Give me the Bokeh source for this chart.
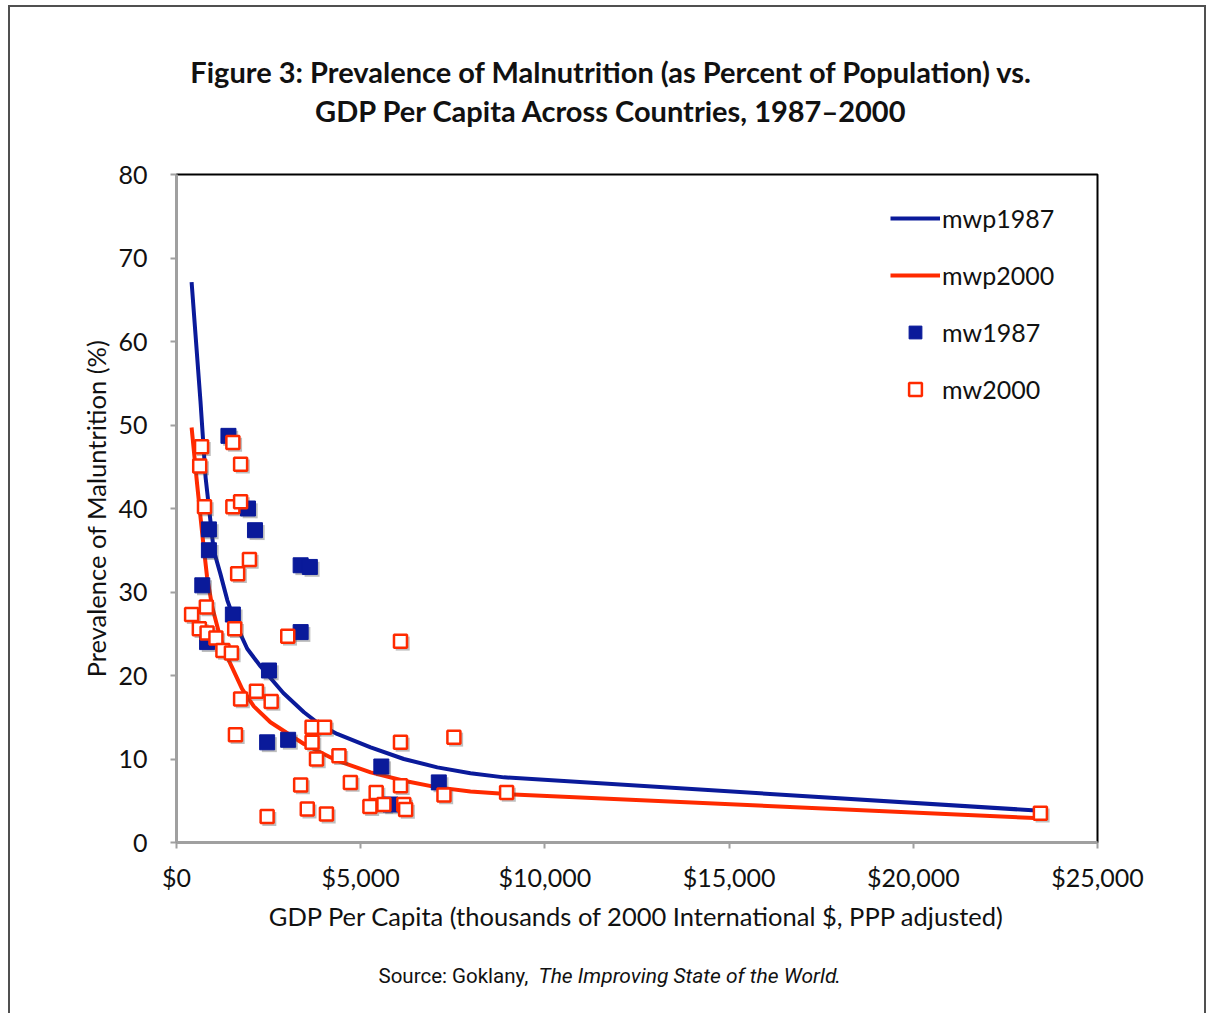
from bokeh.plotting import figure
from bokeh.layouts import column
from bokeh.models import (FixedTicker, NumeralTickFormatter, Legend, LegendItem,
                          Label)
from bokeh.transform import dodge
from bokeh.embed import file_html
from bokeh.resources import INLINE

# ---- data ----
x_mw1987 = [1410, 1940, 2130, 880, 880, 700, 3370, 3620, 1530, 3370, 830,
            2510, 2460, 3030, 5560, 7120, 5810]
y_mw1987 = [48.7, 40.0, 37.4, 37.5, 35.0, 30.8, 33.2, 33.0, 27.3, 25.2, 24.0,
            20.6, 12.0, 12.3, 9.1, 7.2, 4.55]

x_mw2000 = [680, 1530, 630, 1740, 760, 1530, 1740, 1980, 1660, 810, 410, 620,
            830, 1070, 1580, 3020, 1260, 1490, 6080, 1740, 2170, 2570, 1600,
            3680, 4020, 3680, 3800, 4410, 6080, 7530, 3370, 4720, 5420, 6080,
            7260, 5250, 5630, 6170, 6220, 3550, 4070, 2460, 23450, 8960]
y_mw2000 = [47.4, 47.9, 45.1, 45.3, 40.2, 40.2, 40.8, 33.9, 32.2, 28.2, 27.3,
            25.6, 25.1, 24.5, 25.6, 24.7, 23.0, 22.7, 24.1, 17.2, 18.1, 16.9,
            12.9, 13.8, 13.8, 12.0, 10.0, 10.4, 12.0, 12.6, 6.9, 7.2, 6.0, 6.8,
            5.7, 4.3, 4.55, 4.55, 3.95, 4.0, 3.4, 3.1, 3.5, 6.0]

x_mwp1987 = [410, 650, 790, 1010, 1190, 1380, 1510, 1650, 1920, 2280, 2550,
             2900, 3460, 3900, 4360, 5270, 6170, 7080, 7980, 8890, 23450]
y_mwp1987 = [67.1, 52.9, 43.7, 35.0, 32.2, 29.0, 27.4, 25.8, 23.2, 21.1, 19.7,
             17.9, 15.6, 14.1, 13.0, 11.4, 10.0, 9.0, 8.3, 7.8, 3.8]

x_mwp2000 = [410, 560, 700, 830, 970, 1190, 1420, 1780, 2100, 2550, 3460,
             4360, 5270, 6170, 7080, 7980, 8960, 23450]
y_mwp2000 = [49.7, 42.9, 36.9, 31.8, 28.2, 24.5, 21.8, 18.4, 16.3, 14.4, 11.8,
             9.8, 8.4, 7.4, 6.6, 6.1, 5.8, 2.9]

x_ticks = [0, 5000, 10000, 15000, 20000, 25000]
y_ticks = [0, 10, 20, 30, 40, 50, 60, 70, 80]

title_lines = ["Figure 3: Prevalence of Malnutrition (as Percent of Population) vs.",
               "GDP Per Capita Across Countries, 1987\u20132000"]
x_label = "GDP Per Capita (thousands of 2000 International $, PPP adjusted)"
y_label = "Prevalence of Maluntrition (%)"
source_parts = ["Source: Goklany, ", "The Improving State of the World", "."]

BLUE = "#0a1a9a"
RED = "#ff2a00"
FONT = "Lato"
BORDER = "2px solid #505050"

OX, OY = 10, 7              # page position of the content box
CW = 1194                   # content width
TH, MH, SH = 140, 810, 56   # heights of title / main / source panels
FW, FH = 921, 668
PL = 176                    # page x of the (column-aligned) frame left edge
FL = PL - OX
FT = 174 - (OY + TH)


def blank(h):
    f = figure(width=CW, height=h, output_backend="svg", toolbar_location=None,
               x_axis_type=None, y_axis_type=None, x_range=(0, 1), y_range=(0, 1),
               min_border=0, min_border_left=0, min_border_right=0,
               min_border_top=0, min_border_bottom=0)
    f.outline_line_color = None
    f.grid.visible = False
    f.background_fill_color = "white"
    f.border_fill_color = "white"
    return f


# ---- title panel ----
tf = blank(TH)
for t, yy in zip(title_lines, [71, 110]):
    tf.add_layout(Label(x=611 - PL, y=TH - (yy - OY), x_units="screen",
                        y_units="screen", text=t, text_align="center",
                        text_baseline="middle", text_font=FONT,
                        text_font_style="bold", text_font_size="29px",
                        text_color="#111111"))

# ---- main plot ----
p = figure(width=CW, height=MH, output_backend="svg", toolbar_location=None,
           x_range=(0, 25000), y_range=(0, 80),
           frame_width=FW, frame_height=FH,
           min_border_left=FL, min_border_top=FT,
           min_border_right=CW - FL - FW, min_border_bottom=MH - FT - FH)
p.grid.visible = False
p.outline_line_color = "black"
p.outline_line_width = 2
p.background_fill_color = "white"
p.border_fill_color = "white"

for ax in (p.xaxis[0], p.yaxis[0]):
    ax.axis_line_color = "#a0a0a0"
    ax.axis_line_width = 3
    ax.major_tick_line_color = "#a0a0a0"
    ax.major_tick_line_width = 2
    ax.major_tick_out = 6
    ax.major_tick_in = 0
    ax.minor_tick_line_color = None
    ax.major_label_text_font = FONT
    ax.major_label_text_font_size = "25px"
    ax.major_label_text_color = "#111111"
    ax.axis_label_text_font = FONT
    ax.axis_label_text_font_size = "25.5px"
    ax.axis_label_text_font_style = "normal"
    ax.axis_label_text_color = "#111111"

p.xaxis.ticker = FixedTicker(ticks=x_ticks)
p.yaxis.ticker = FixedTicker(ticks=y_ticks)
p.xaxis.formatter = NumeralTickFormatter(format="$0,0")
p.xaxis.axis_label = x_label
p.yaxis.axis_label = y_label
p.xaxis.major_label_standoff = 13
p.yaxis.major_label_standoff = 23
p.xaxis.axis_label_standoff = 6
p.yaxis.axis_label_standoff = 4

l1 = p.line(x_mwp1987, y_mwp1987, line_color=BLUE, line_width=4)
l2 = p.line(x_mwp2000, y_mwp2000, line_color=RED, line_width=4)

# soft drop shadows under the markers
p.scatter(dodge("x", 60), dodge("y", -0.28), marker="square", size=15,
          fill_color="#444444", fill_alpha=0.35, line_color=None,
          source=dict(x=x_mw1987, y=y_mw1987))
p.scatter(dodge("x", 60), dodge("y", -0.28), marker="square", size=14,
          fill_color="#444444", fill_alpha=0.35, line_color=None,
          source=dict(x=x_mw2000, y=y_mw2000))

s1 = p.scatter(x_mw1987, y_mw1987, marker="square", size=15, fill_color=BLUE,
               line_color=BLUE, line_width=1)
s2 = p.scatter(x_mw2000, y_mw2000, marker="square", size=13, fill_color="white",
               line_color=RED, line_width=2.5)

legend = Legend(items=[LegendItem(label="mwp1987", renderers=[l1]),
                       LegendItem(label="mwp2000", renderers=[l2]),
                       LegendItem(label="mw1987", renderers=[s1]),
                       LegendItem(label="mw2000", renderers=[s2])],
                location=(714, 437), orientation="vertical",
                glyph_width=50, glyph_height=32, label_standoff=2, spacing=25,
                padding=0, margin=0, border_line_color=None,
                background_fill_alpha=0, label_text_font=FONT,
                label_text_font_size="25px", label_text_color="#111111",
                label_height=22)
p.add_layout(legend, "center")

# ---- source panel ----
sf = blank(SH)
for txt, style, px, fs in zip(source_parts, ["normal", "italic", "normal"],
                              [378, 538, 834], ["20.5px", "21px", "20.5px"]):
    sf.add_layout(Label(x=px - PL, y=SH - (975 - (OY + TH + MH)),
                        x_units="screen", y_units="screen", text=txt,
                        text_align="left", text_baseline="middle",
                        text_font="Roboto", text_font_style=style,
                        text_font_size=fs, text_color="#111111"))

layout = column(tf, p, sf, spacing=0, margin=(5, 0, 0, 8),
                styles={"border-left": BORDER, "border-top": BORDER,
                        "border-right": BORDER})

open("out.html", "w").write(file_html(layout, INLINE))
